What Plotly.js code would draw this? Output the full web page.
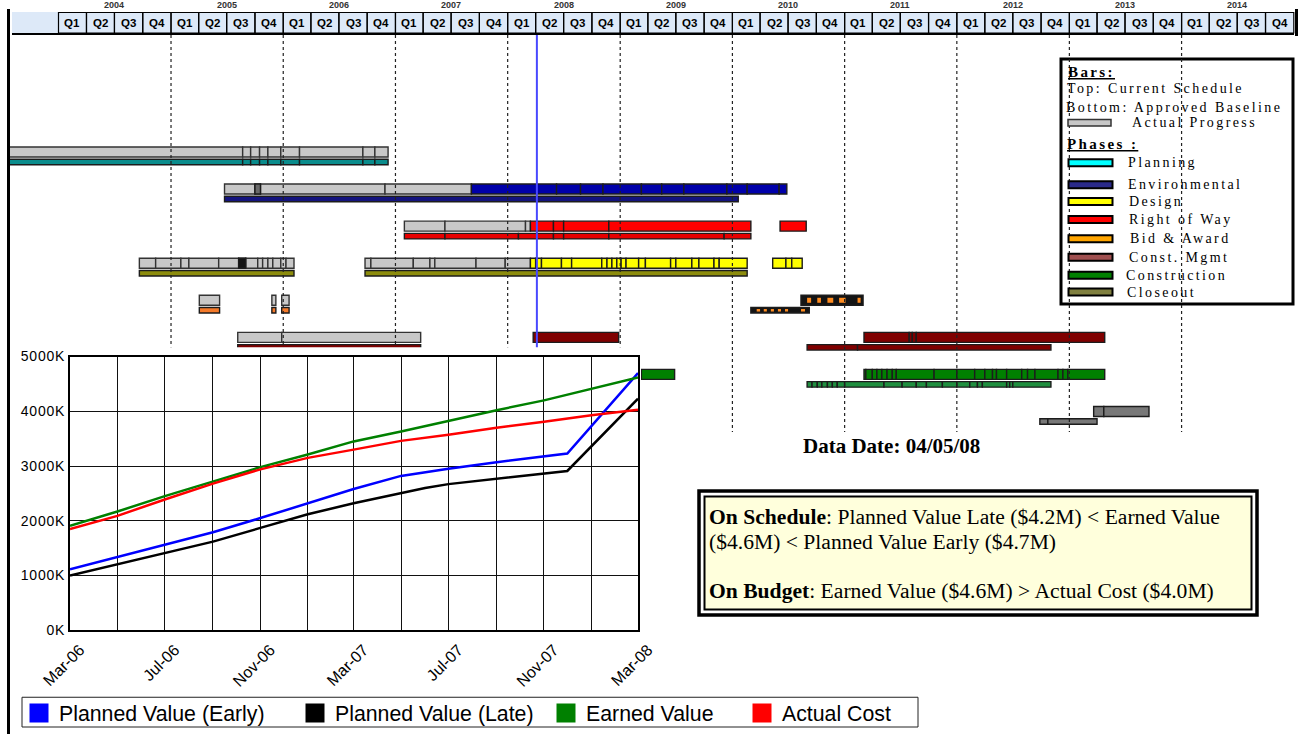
<!DOCTYPE html>
<html><head><meta charset="utf-8">
<script src="https://cdn.plot.ly/plotly-3.0.1.min.js"></script>
<style>
html,body{margin:0;padding:0;background:#fff;overflow:hidden}
#wrap{position:relative;width:1304px;height:734px}
#gantt,#ev{position:absolute;left:0;top:0;width:1304px;height:734px}
#ev .ytick text{letter-spacing:0.8px}
</style></head><body>
<div id="wrap"><div id="gantt"></div><div id="ev"></div></div>
<script>
// ===================== DATA =====================
// Earned value chart (thousands of dollars)
const evDates = ['2006-03-01','2006-05-01','2006-07-01','2006-09-01','2006-11-01','2007-01-01','2007-03-01','2007-05-01','2007-07-01','2007-09-01','2007-11-01','2008-01-01','2008-03-01'];
const earnedValue = [1910,2170,2450,2720,2980,3210,3450,3630,3830,4020,4200,4410,4620];
const actualCost  = [1850,2090,2390,2680,2940,3150,3300,3460,3570,3700,3810,3930,4030];
const pvDates = ['2006-03-01','2006-05-01','2006-07-01','2006-09-01','2006-11-01','2007-01-01','2007-03-01','2007-05-01','2007-06-01','2007-07-01','2007-09-01','2007-11-01','2007-12-01','2008-03-01'];
const pvEarly = [1115,1340,1570,1790,2050,2320,2580,2820,2890,2950,3070,3180,3230,4700];
const pvLate  = [1000,1210,1420,1620,1870,2120,2320,2510,2600,2670,2770,2860,2910,4230];
const seriesNames = ['Planned Value (Early)','Planned Value (Late)','Earned Value','Actual Cost'];

// Gantt header
const years = [2004,2005,2006,2007,2008,2009,2010,2011,2012,2013,2014];
const quarterLabels = ['Q1','Q2','Q3','Q4'];
const dataDate = '2008-04-05';
const dataDateText = 'Data Date: 04/05/08';

// Gantt legend
const barsLegend = ['Bars:','Top: Current Schedule','Bottom: Approved Baseline','Actual Progress'];
const phaseNames = ['Planning','Environmental','Design','Right of Way','Bid & Award','Const. Mgmt','Construction','Closeout'];

// Gantt bars: cut points (segment boundaries) per row/layer
const planTop = ['2003-07-23','2005-08-22','2005-09-17','2005-10-16','2005-11-12','2005-12-24','2006-02-23','2006-09-17','2006-10-26','2006-12-08'];
const planBase = ['2003-07-23','2005-08-22','2005-09-17','2005-10-16','2005-11-12','2005-12-24','2006-02-23','2006-09-17','2006-10-26','2006-12-08'];
const envTopActual = ['2005-06-24','2005-10-01','2005-10-19','2006-11-28','2007-09-05'];
const envTopDark = ['2005-10-01','2005-10-19'];
const envTop = ['2007-09-05','2008-06-08','2008-08-25','2008-11-06','2009-03-11','2009-05-16','2009-07-27','2009-12-14','2010-02-18','2010-06-02','2010-06-27'];
const envBase = ['2005-06-24','2010-01-20'];
const rowTopActual = ['2007-01-30','2007-06-11','2008-02-28','2008-03-15'];
const rowTop = ['2008-03-15','2008-05-29','2008-07-01','2008-11-25','2010-03-02'];
const rowTopLate = ['2010-06-05','2010-08-29'];
const rowBase = ['2007-01-30','2007-06-11','2008-02-05','2008-05-29','2008-07-01','2008-11-25','2009-12-05','2010-03-02'];
const desTopActualA = ['2004-09-20','2004-11-12','2005-02-02','2005-02-28','2005-06-05','2005-08-09','2005-09-01','2005-10-10','2005-10-26','2005-11-12','2005-11-28','2005-12-24','2006-01-10','2006-02-05'];
const desTopDark = ['2005-08-09','2005-09-01'];
const desTopActualB = ['2006-09-24','2006-10-13','2007-02-28','2007-04-23','2007-05-09','2007-09-20','2007-12-24','2008-03-15'];
const desTop = ['2008-03-15','2008-04-01','2008-04-20','2008-06-24','2008-07-27','2008-11-02','2008-11-19','2008-12-05','2008-12-21','2009-01-04','2009-01-20','2009-03-02','2009-03-24','2009-06-14','2009-07-01','2009-08-22','2009-09-14','2009-11-02','2009-11-19','2010-02-18'];
const desTopLate = ['2010-05-12','2010-06-24','2010-07-13','2010-08-16'];
const desBaseA = ['2004-09-20','2006-02-05'];
const desBaseB = ['2006-09-24','2010-02-18'];
const bidTopActual = ['2005-04-03','2005-06-08','2005-11-25','2005-12-08','2005-12-27','2006-01-20'];
const bidBaseEarly = ['2005-04-03','2005-06-08','2005-11-25','2005-12-08','2005-12-27','2006-01-20'];
const bidTop = ['2010-08-12','2011-03-02'];
const bidTopMarks = ['2010-09-01','2010-09-14','2010-10-04','2010-10-16','2010-11-06','2010-11-25','2010-12-14','2011-01-04','2011-02-12','2011-02-22'];
const bidBase = ['2010-03-02','2010-09-08'];
const bidBaseMarks = ['2010-03-21','2010-04-01','2010-04-13','2010-04-23','2010-05-06','2010-05-16','2010-05-29','2010-06-08','2010-06-21','2010-07-01','2010-08-12','2010-08-25'];
const cmTopActual = ['2005-08-06','2005-12-27','2007-03-24'];
const cmBaseEarly = ['2005-08-06','2007-03-24'];
const cmTop = ['2008-03-24','2008-12-27'];
const cmTopLate = ['2011-03-05','2011-07-30','2011-08-09','2011-08-22','2013-04-26'];
const cmBase = ['2010-09-01','2011-02-12','2012-11-02'];
const conTopEarly = ['2009-03-11','2009-06-27'];
const conTop = ['2011-03-05','2011-03-11','2011-04-01','2011-04-16','2011-05-02','2011-05-19','2011-06-05','2011-06-18','2011-10-19','2012-01-01','2012-02-28','2012-04-01','2012-04-26','2012-05-09','2012-06-11','2012-07-30','2012-08-18','2012-09-11','2012-11-25','2012-12-11','2012-12-27','2013-04-26'];
const conBase = ['2010-09-01','2010-09-17','2010-10-04','2010-10-19','2010-11-06','2010-11-22','2010-12-08','2011-01-01','2011-05-09','2011-07-07','2011-08-22','2011-09-24','2011-11-15','2012-01-01','2012-02-12','2012-03-08','2012-03-24','2012-06-11','2012-06-21','2012-07-01','2012-11-02'];
const closeTop = ['2013-03-21','2013-04-23','2013-09-17'];
const closeBase = ['2012-09-27','2012-10-23','2013-04-01'];

// ===================== STYLE / LAYOUT CONSTANTS =====================
const W = 1304, H = 734;
const ROW0 = 152, PITCH = 37.07;
const fills = {actual:'#c8c8c8', actualDark:'#6a6a6a', planBase:'#0a8c8c', env:'#0000aa', envBase:'#14147e',
  row:'#ff0000', rowBase:'#e80000', design:'#ffff00', designBase:'#8c8c0c', bidBase:'#f47a2a', bid:'#ff8c20',
  bidDark:'#141414', cm:'#800000', con:'#008000', conBase:'#1f8f3f', close:'#787878'};
const legendFills = ['#00ffff','#2a2a8a','#ffff00','#ff0000','#ffa500','#a05050','#008000','#808040'];
const lineColors = ['#0000ff','#000000','#008000','#ff0000'];

// [row, layer, colorKey, cuts, pairwise]
const runs = [
  [0,'top','actual',planTop,false],[0,'base','planBase',planBase,false],
  [1,'top','actual',envTopActual,false],[1,'top','actualDark',envTopDark,false],[1,'top','env',envTop,false],[1,'base','envBase',envBase,false],
  [2,'top','actual',rowTopActual,false],[2,'top','row',rowTop,false],[2,'top','row',rowTopLate,false],[2,'base','rowBase',rowBase,false],
  [3,'top','actual',desTopActualA,false],[3,'top','bidDark',desTopDark,false],[3,'top','actual',desTopActualB,false],[3,'top','design',desTop,false],[3,'top','design',desTopLate,false],
  [3,'base','designBase',desBaseA,false],[3,'base','designBase',desBaseB,false],
  [4,'top','actual',bidTopActual,true],[4,'base','bidBase',bidBaseEarly,true],[4,'top','bidDark',bidTop,false],[4,'topmark','bid',bidTopMarks,true],
  [4,'base','bidDark',bidBase,false],[4,'basemark','bid',bidBaseMarks,true],
  [5,'top','actual',cmTopActual,false],[5,'base','cm',cmBaseEarly,false],[5,'top','cm',cmTop,false],[5,'top','cm',cmTopLate,false],[5,'base','cm',cmBase,false],
  [6,'top','con',conTopEarly,false],[6,'top','con',conTop,false],[6,'base','conBase',conBase,false],
  [7,'top','close',closeTop,false],[7,'base','close',closeBase,false]
];

// ===================== GANTT =====================
const T0 = Date.UTC(2004,0,1), T1 = Date.UTC(2015,0,1);
const PX0 = 58.5, PX1 = 1293.8;
const mpp = (T1 - T0) / (PX1 - PX0);
const iso = ms => new Date(ms).toISOString().slice(0,23).replace('T',' ');
const xr = [iso(T0 - PX0*mpp), iso(T0 + (W-PX0)*mpp)];
const vOf = p => (p - ROW0) / PITCH;
const py = p => 1 - p / H;
const pxp = p => p / W;

const bar = {base:[], x:[], y:[], w:[], c:[], lw:[], lc:[]};
const OFF = 10 / PITCH;
runs.forEach(([row, layer, key, cuts, pairs]) => {
  const step = pairs ? 2 : 1;
  for (let i = 0; i + 1 < cuts.length; i += step) {
    const s = cuts[i], e = cuts[i+1];
    bar.base.push(s); bar.x.push(Date.parse(e) - Date.parse(s));
    let y = row, w = 10/PITCH, lw = 1.4, lc = '#1c1c1c';
    if (layer === 'base') { y = row + OFF; w = 5.5/PITCH; }
    if (layer === 'topmark') { w = 5/PITCH; lw = 0; }
    if (layer === 'basemark') { y = row + OFF; w = 2.5/PITCH; lw = 0; }
    if (key === 'actual') lc = '#333';
    bar.y.push(y); bar.w.push(w); bar.c.push(fills[key]); bar.lw.push(lw); bar.lc.push(lc);
  }
});

const gShapes = [];
const gAnn = [];
// header background
gShapes.push({type:'rect', xref:'paper', yref:'paper', x0:pxp(12), x1:pxp(1294), y0:py(12), y1:py(33), fillcolor:'#dde9f8', line:{width:0}});
years.forEach(yr => {
  quarterLabels.forEach((q, qi) => {
    const s = `${yr}-${String(qi*3+1).padStart(2,'0')}-01`;
    const e = qi === 3 ? `${yr+1}-01-01` : `${yr}-${String(qi*3+4).padStart(2,'0')}-01`;
    gShapes.push({type:'rect', xref:'x', yref:'paper', x0:s, x1:e, y0:py(12.5), y1:py(33), line:{color:'#000', width:1.2}});
    gAnn.push({xref:'x', yref:'paper', x:iso((Date.parse(s)+Date.parse(e))/2), y:py(23), xanchor:'center', yanchor:'middle', text:'<b>'+q+'</b>', showarrow:false,
      font:{family:'Liberation Sans, Arial', size:11.5, color:'#000'}});
  });
  gAnn.push({xref:'x', yref:'paper', x:`${yr}-07-01`, y:py(5.5), text:'<b>'+yr+'</b>', showarrow:false, xanchor:'center', yanchor:'middle',
    font:{family:'Liberation Sans, Arial', size:9, color:'#333'}});
});
gShapes.push({type:'line', xref:'paper', yref:'paper', x0:pxp(12), x1:pxp(1294), y0:py(34), y1:py(34), line:{color:'#000', width:2}});
gShapes.push({type:'line', xref:'paper', yref:'paper', x0:pxp(8.5), x1:pxp(8.5), y0:py(9), y1:py(734), line:{color:'#000', width:3}});
gShapes.push({type:'line', xref:'paper', yref:'paper', x0:pxp(1296.5), x1:pxp(1296.5), y0:py(9), y1:py(36), line:{color:'#000', width:3}});
// gantt legend box
gShapes.push({type:'rect', xref:'paper', yref:'paper', x0:pxp(1061), x1:pxp(1293), y0:py(59), y1:py(304), fillcolor:'#fff', line:{color:'#000', width:3}});
// year dotted lines
years.slice(1).forEach(yr => {
  gShapes.push({type:'line', xref:'x', yref:'paper', x0:`${yr}-01-01`, x1:`${yr}-01-01`, y0:py(35), y1:py(432), line:{color:'#222', width:1.2, dash:'dot'}});
});
// data date line
gShapes.push({type:'line', xref:'x', yref:'paper', x0:dataDate, x1:dataDate, y0:py(35), y1:py(350), line:{color:'#4848ff', width:2}});
// legend swatches + texts
const lgText = (t, x, y, bold) => ({xref:'paper', yref:'paper', x:pxp(x), y:py(y), xanchor:'left', yanchor:'middle', align:'left', showarrow:false,
  text: bold ? '<b><u>'+t+'</u></b>' : t.replace('&','&amp;'), font:{family:'Liberation Serif, Times New Roman, serif', size:bold?15:14, color:'#000'}});
gAnn.push(lgText(barsLegend[0], 1066, 72, true));
gAnn.push(lgText(barsLegend[1], 1065, 89, false));
gAnn.push(lgText(barsLegend[2], 1064, 107.5, false));
gAnn.push(lgText(barsLegend[3], 1130, 123, false));
gShapes.push({type:'rect', xref:'paper', yref:'paper', x0:pxp(1068), x1:pxp(1111), y0:py(119.5), y1:py(126), fillcolor:'#c8c8c8', line:{color:'#333', width:1.5}});
gAnn.push(lgText('Phases :', 1065, 144, true));
const swY = [162.7,184.7,201.5,219.5,238.8,257.2,275.3,292];
const txX = [1126,1126,1127,1127,1128,1127,1124,1125];
phaseNames.forEach((p, i) => {
  gShapes.push({type:'rect', xref:'paper', yref:'paper', x0:pxp(1068.5), x1:pxp(1112.5), y0:py(swY[i]-3.5), y1:py(swY[i]+3.5), fillcolor:legendFills[i], line:{color:'#000', width:2}});
  gAnn.push(lgText(p, txX[i], swY[i], false));
});

const ganttTrace = {type:'bar', orientation:'h', base:bar.base, x:bar.x, y:bar.y, width:bar.w,
  marker:{color:bar.c, line:{color:bar.lc, width:bar.lw}}, hoverinfo:'skip', showlegend:false};

const ganttLayout = {width:W, height:H, margin:{l:0,r:0,t:0,b:0,pad:0}, paper_bgcolor:'#fff', plot_bgcolor:'rgba(0,0,0,0)',
  showlegend:false, barmode:'overlay',
  xaxis:{type:'date', range:xr, visible:false, fixedrange:true},
  yaxis:{range:[vOf(H), vOf(0)], visible:false, fixedrange:true},
  shapes:gShapes, annotations:gAnn};

const spaced = new Set([...barsLegend, 'Phases :', ...phaseNames]);
Plotly.newPlot('gantt', [ganttTrace], ganttLayout, {staticPlot:true, displayModeBar:false}).then(gd => {
  gd.querySelectorAll('text.annotation-text').forEach(t => {
    if (spaced.has(t.textContent)) t.style.letterSpacing = '2.4px';
  });
});

// ===================== EARNED VALUE CHART =====================
const evTraces = [
  {x:pvDates, y:pvEarly, name:seriesNames[0]},
  {x:pvDates, y:pvLate, name:seriesNames[1]},
  {x:evDates, y:earnedValue, name:seriesNames[2]},
  {x:evDates, y:actualCost, name:seriesNames[3]}
].map((t, i) => Object.assign(t, {type:'scatter', mode:'lines', line:{color:lineColors[i], width:2.5}, showlegend:false, hoverinfo:'skip'}));
seriesNames.forEach((n, i) => evTraces.push({type:'scatter', mode:'markers', x:[null], y:[null], name:n,
  marker:{symbol:'square', size:16, color:lineColors[i], line:{color:lineColors[i], width:3}},
  legend: i ? 'legend' + (i+1) : 'legend', showlegend:true, hoverinfo:'skip'}));

const legendX = [19, 295, 546, 742];
const evLayout = {width:W, height:H, margin:{l:0,r:0,t:0,b:0,pad:0}, paper_bgcolor:'rgba(0,0,0,0)', plot_bgcolor:'#fff',
  font:{family:'Liberation Sans, Arial, sans-serif', color:'#000'}, showlegend:true,
  xaxis:{type:'date', domain:[70/W, 638/W], range:['2006-03-01','2008-03-01'], tickmode:'linear', tick0:'2006-03-01', dtick:'M4',
    tickformat:'%b-%y', tickangle:-45, showgrid:true, gridcolor:'#111', gridwidth:1, ticklabelshift:10, ticklabelstandoff:2,
    minor:{dtick:'M2', tick0:'2006-03-01', showgrid:true, gridcolor:'#111', gridwidth:1},
    showline:true, linecolor:'#000', linewidth:2, mirror:true, ticks:'', zeroline:false, tickfont:{size:16}},
  yaxis:{domain:[1-635.5/H, 1-359.5/H], range:[0,5000], dtick:1000, ticksuffix:'K', showgrid:true, gridcolor:'#111', gridwidth:1,
    showline:true, linecolor:'#000', linewidth:2, mirror:true, ticks:'', zeroline:false, tickfont:{size:14}},
  shapes:[
    {type:'rect', xref:'paper', yref:'paper', layer:'below', x0:pxp(12), x1:pxp(641), y0:py(350), y1:py(700), fillcolor:'#fff', line:{width:0}},
    {type:'rect', xref:'paper', yref:'paper', x0:pxp(22), x1:pxp(918), y0:py(703), y1:py(733), line:{color:'#222', width:1}},
    {type:'rect', xref:'paper', yref:'paper', x0:pxp(699), x1:pxp(1257), y0:py(495), y1:py(620), fillcolor:'#fff', line:{color:'#000', width:3.5}},
    {type:'rect', xref:'paper', yref:'paper', x0:pxp(704.5), x1:pxp(1251.5), y0:py(500.5), y1:py(614.5), fillcolor:'#ffffdc', line:{color:'#000', width:2}}
  ],
  annotations:[
    {xref:'paper', yref:'paper', x:pxp(891), y:py(450), xanchor:'center', yanchor:'middle', text:'<b>'+dataDateText+'</b>', showarrow:false,
      font:{family:'Liberation Serif, Times New Roman, serif', size:21, color:'#000'}},
    ...[['<b>On Schedule</b>: Planned Value Late ($4.2M) &lt; Earned Value', 521],
        ['($4.6M) &lt; Planned Value Early ($4.7M)', 546],
        ['<b>On Budget</b>: Earned Value ($4.6M) &gt; Actual Cost ($4.0M)', 596]].map(([t, y]) => ({
      xref:'paper', yref:'paper', x:pxp(707), y:py(y), xanchor:'left', yanchor:'middle', align:'left', showarrow:false, text:t,
      font:{family:'Liberation Serif, Times New Roman, serif', size:21.6, color:'#000'}}))
  ]
};
seriesNames.forEach((n, i) => {
  evLayout[i ? 'legend' + (i+1) : 'legend'] = {x:pxp(legendX[i]), y:py(719), xanchor:'left', yanchor:'middle', orientation:'h',
    bgcolor:'rgba(0,0,0,0)', borderwidth:0, font:{size:21.3, color:'#000'}};
});
Plotly.newPlot('ev', evTraces, evLayout, {staticPlot:true, displayModeBar:false});
</script>
</body></html>
